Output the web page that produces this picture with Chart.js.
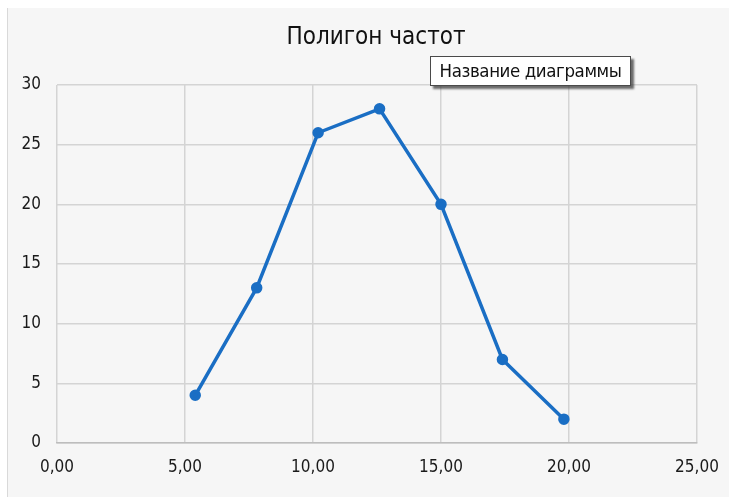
<!DOCTYPE html>
<html>
<head>
<meta charset="utf-8">
<script src="https://cdn.jsdelivr.net/npm/chart.js@4/dist/chart.umd.min.js"></script>
<style>
  html, body { margin: 0; padding: 0; background: #ffffff; }
  #wrap { position: relative; width: 729px; height: 497px; }
  #c { display: block; }
  #note {
    position: absolute; left: 430px; top: 56px; width: 201px; height: 30px;
    box-sizing: border-box; background: #ffffff; border: 1px solid #4a4a4a;
    box-shadow: 3px 3px 2px rgba(60,60,60,0.75);
    font: 18.5px "DejaVu Sans Condensed", "Open Sans", sans-serif; color: #111;
    line-height: 28px; text-align: center; white-space: nowrap; letter-spacing: -0.4px;
  }
</style>
</head>
<body>
<div id="wrap">
  <canvas id="c" width="729" height="497"></canvas>
  <div id="note">Название диаграммы</div>
</div>
<script>
// Interval midpoints and frequencies of the polygon
const midpoints = [5.4, 7.8, 10.2, 12.6, 15.0, 17.4, 19.8];
const frequencies = [4, 13, 26, 28, 20, 7, 2];
const chartTitle = 'Полигон частот';

const FONT = '"DejaVu Sans Condensed", "Open Sans", sans-serif';

// Light grey panel behind the chart, with a thin left edge, and the heading
const panel = {
  id: 'panel',
  beforeDraw(chart) {
    const ctx = chart.ctx;
    ctx.save();
    ctx.fillStyle = '#ffffff';
    ctx.fillRect(0, 0, chart.width, chart.height);
    ctx.fillStyle = '#f6f6f6';
    ctx.fillRect(8, 8, chart.width - 8, chart.height - 8);
    ctx.strokeStyle = '#d9d9d9';
    ctx.lineWidth = 1;
    ctx.beginPath();
    ctx.moveTo(7.5, 8);
    ctx.lineTo(7.5, chart.height);
    ctx.stroke();
    ctx.restore();
  },
  afterDraw(chart) {
    const ctx = chart.ctx;
    ctx.save();
    ctx.fillStyle = '#111111';
    ctx.font = '24px ' + FONT;
    ctx.textAlign = 'center';
    ctx.textBaseline = 'middle';
    ctx.fillText(chartTitle, 376, 38);
    ctx.restore();
  }
};

new Chart(document.getElementById('c'), {
  type: 'scatter',
  data: {
    datasets: [{
      data: midpoints.map((x, i) => ({ x, y: frequencies[i] })),
      showLine: true,
      borderColor: '#1a6ec4',
      backgroundColor: '#1a6ec4',
      borderWidth: 3.5,
      pointRadius: 4,
      pointHoverRadius: 4,
      tension: 0
    }]
  },
  options: {
    responsive: false,
    animation: false,
    layout: { padding: { left: 0, right: 32, top: 85, bottom: 0 } },
    plugins: {
      legend: { display: false },
      tooltip: { enabled: false },
      title: { display: false }
    },
    scales: {
      x: {
        type: 'linear',
        min: 0, max: 25,
        ticks: {
          stepSize: 5,
          color: '#1a1a1a',
          font: { family: FONT, size: 17 },
          padding: 14,
          callback: v => v.toFixed(2).replace('.', ',')
        },
        grid: { color: '#d4d4d4', lineWidth: 1.5, drawTicks: false },
        border: { color: '#bdbdbd', width: 1.5 },
        afterFit(s) { s.height = 54; s.paddingLeft = 0; s.paddingRight = 0; }
      },
      y: {
        min: 0, max: 30,
        ticks: {
          stepSize: 5,
          color: '#1a1a1a',
          font: { family: FONT, size: 17 },
          padding: 16
        },
        grid: { color: '#d4d4d4', lineWidth: 1.5, drawTicks: false },
        border: { display: false },
        afterFit(s) { s.width = 57; s.paddingTop = 0; s.paddingBottom = 0; }
      }
    }
  },
  plugins: [panel]
});
</script>
</body>
</html>
